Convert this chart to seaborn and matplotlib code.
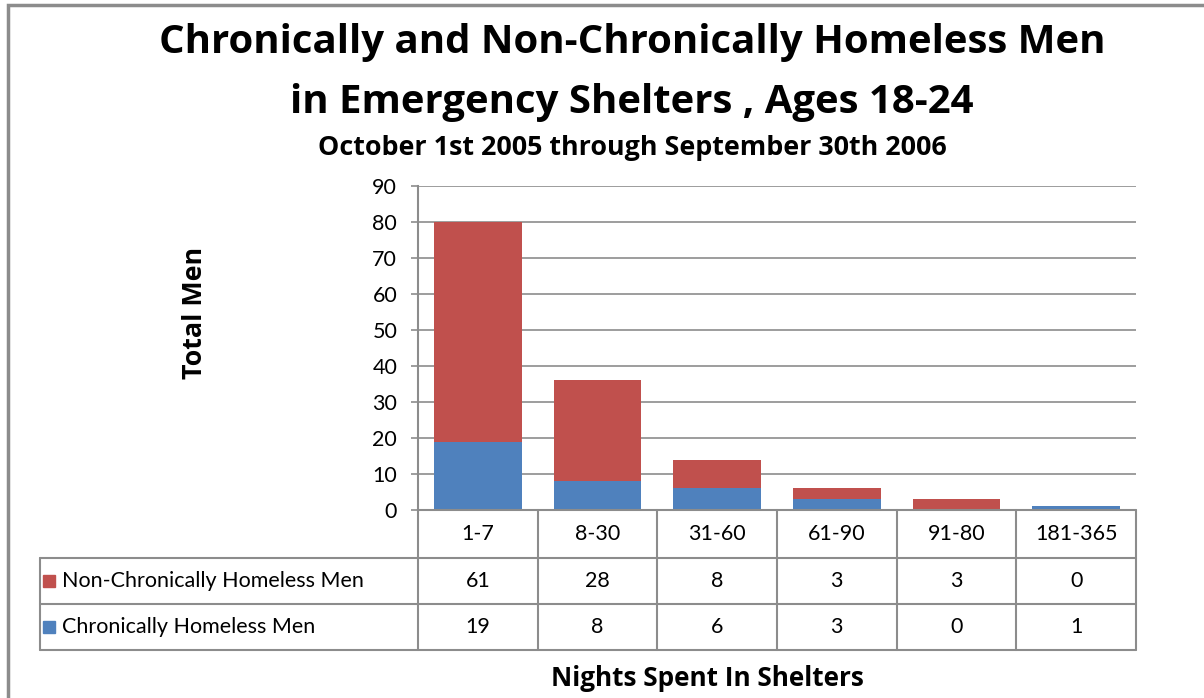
import numpy as np
import pandas as pd
import seaborn as sns
import matplotlib.pyplot as plt
from matplotlib.patches import Rectangle

# chart data
categories = ['1-7', '8-30', '31-60', '61-90', '91-80', '181-365']
non_chronic = [61, 28, 8, 3, 3, 0]
chronic = [19, 8, 6, 3, 0, 1]
series_names = ['Non-Chronically Homeless Men', 'Chronically Homeless Men']
y_ticks = [0, 10, 20, 30, 40, 50, 60, 70, 80, 90]

red = '#C0504D'
blue = '#4F81BD'
line_gray = '#8C8C8C'

sns.set_theme(style='white')
plt.rcParams['font.family'] = ['Lato', 'DejaVu Sans']
plt.rcParams['text.color'] = 'black'
plt.rcParams['ytick.labelcolor'] = 'black'
bold_font = ['Open Sans', 'DejaVu Sans']

W, H = 1204, 698
fig = plt.figure(figsize=(W / 100, H / 100), dpi=100)

# plot area in pixels
x0, x1, y_top, y_bot = 418, 1136, 186, 510
ax = fig.add_axes([x0 / W, 1 - y_bot / H, (x1 - x0) / W, (y_bot - y_top) / H])

df = pd.DataFrame({'cat': categories,
                   'non': non_chronic,
                   'chronic': chronic})
df['total'] = df['non'] + df['chronic']

sns.barplot(data=df, x='cat', y='total', color=red, width=0.73,
            saturation=1, linewidth=0, ax=ax, zorder=3)
sns.barplot(data=df, x='cat', y='chronic', color=blue, width=0.73,
            saturation=1, linewidth=0, ax=ax, zorder=3)

ax.set_xlim(-0.5, len(categories) - 0.5)
ax.set_ylim(0, 90)
ax.set_yticks(y_ticks)
ax.set_yticklabels([str(t) for t in y_ticks], fontsize=15.5, color='black')
ax.set_xticks([])
ax.set_xlabel('')
ax.set_ylabel('')
ax.yaxis.grid(True, color=line_gray, linewidth=1.2)
ax.set_axisbelow(True)
for side in ['top', 'right', 'bottom']:
    ax.spines[side].set_visible(False)
ax.spines['left'].set_color(line_gray)
ax.spines['left'].set_linewidth(1.5)
ax.tick_params(axis='y', left=True, length=5, color=line_gray, width=1.2, pad=10)


def px(x, y):
    return x / W, 1 - y / H


def hline(xa, xb, y):
    fig.add_artist(plt.Line2D([xa / W, xb / W], [1 - y / H, 1 - y / H],
                              color=line_gray, linewidth=1.5))


def vline(x, ya, yb):
    fig.add_artist(plt.Line2D([x / W, x / W], [1 - ya / H, 1 - yb / H],
                              color=line_gray, linewidth=1.5))


# data table below the plot
col_w = (x1 - x0) / len(categories)
row_y = [510, 558, 604, 650]
legend_x = 40
hline(x0, x1, row_y[0])
for y in row_y[1:]:
    hline(legend_x, x1, y)
vline(legend_x, row_y[1], row_y[3])
for i in range(len(categories) + 1):
    vline(x0 + i * col_w, row_y[0], row_y[3])

for i, cat in enumerate(categories):
    cx = x0 + (i + 0.5) * col_w
    fig.text(*px(cx, (row_y[0] + row_y[1]) / 2), cat, ha='center', va='center', fontsize=15.5)
    fig.text(*px(cx, (row_y[1] + row_y[2]) / 2), str(non_chronic[i]),
             ha='center', va='center', fontsize=15.5)
    fig.text(*px(cx, (row_y[2] + row_y[3]) / 2), str(chronic[i]),
             ha='center', va='center', fontsize=15.5)

for r, (name, col) in enumerate(zip(series_names, [red, blue])):
    yc = (row_y[r + 1] + row_y[r + 2]) / 2
    fig.add_artist(Rectangle(px(43, yc + 6), 12 / W, 12 / H, color=col,
                             transform=fig.transFigure))
    fig.text(*px(62, yc), name, ha='left', va='center', fontsize=15.5)

# titles and axis labels
fig.text(*px(632, 43), 'Chronically and Non-Chronically Homeless Men',
         ha='center', va='center', fontsize=28.9, fontweight='bold', family=bold_font)
fig.text(*px(632, 103), 'in Emergency Shelters , Ages 18-24',
         ha='center', va='center', fontsize=28.9, fontweight='bold', family=bold_font)
fig.text(*px(632, 148), 'October 1st 2005 through September 30th 2006',
         ha='center', va='center', fontsize=19.4, fontweight='bold', family=bold_font)
fig.text(*px(195, 313), 'Total Men', ha='center', va='center',
         rotation=90, fontsize=19.4, fontweight='bold', family=bold_font)
fig.text(*px(707, 678), 'Nights Spent In Shelters', ha='center', va='center',
         fontsize=18.8, fontweight='bold', family=bold_font)

# outer chart border
fig.add_artist(Rectangle(px(8, 720), (W + 20) / W, 715 / H, fill=False,
                         edgecolor=line_gray, linewidth=2.5,
                         transform=fig.transFigure))

fig.savefig('out.png', dpi=100)
